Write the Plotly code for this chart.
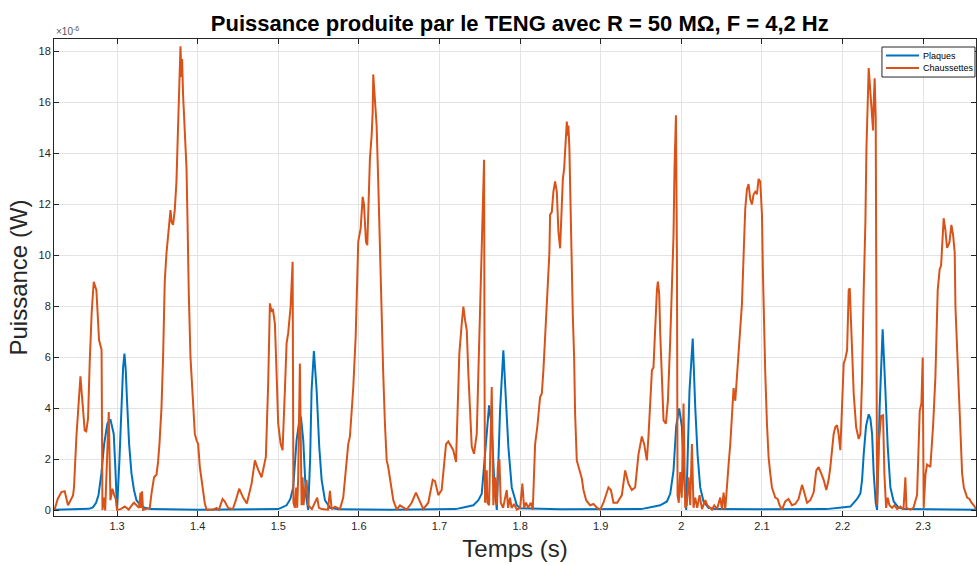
import numpy as np
import plotly.graph_objects as go

# Time (s) and power (µW) samples for the "Plaques" trace
t_plaques = [
    1.2220, 1.2500, 1.2650, 1.2700, 1.2740, 1.2770, 1.2806, 1.2840, 1.2880, 1.2918,
    1.2940, 1.2959, 1.2980, 1.3000, 1.3030, 1.3055, 1.3075, 1.3092, 1.3108, 1.3124,
    1.3150, 1.3179, 1.3210, 1.3241, 1.3290, 1.3344, 1.3420, 1.4000,
    1.4800, 1.5000, 1.5103, 1.5150, 1.5185, 1.5227, 1.5260, 1.5281, 1.5310, 1.5343,
    1.5371, 1.5395, 1.5413, 1.5442, 1.5476, 1.5508, 1.5538, 1.5579, 1.5641, 1.5750,
    1.6400, 1.7200, 1.7420, 1.7482, 1.7524, 1.7565, 1.7586, 1.7615, 1.7648, 1.7680,
    1.7711, 1.7752, 1.7792, 1.7826, 1.7854, 1.7896, 1.7959, 1.8000, 1.8500, 1.9500,
    1.9738, 1.9821, 1.9862, 1.9903, 1.9936, 1.9973, 2.0006, 2.0035, 2.0060, 2.0101,
    2.0141, 2.0172, 2.0201, 2.0234, 2.0275, 2.0337, 2.0420, 2.1000, 2.1800, 2.2097,
    2.2180, 2.2221, 2.2242, 2.2262, 2.2291, 2.2324, 2.2345, 2.2366, 2.2386, 2.2411,
    2.2428, 2.2460, 2.2497, 2.2531, 2.2560, 2.2593, 2.2634, 2.2696, 2.2779, 2.3661,
]
p_plaques = [
    0.03, 0.04, 0.06, 0.12, 0.30, 0.60, 1.45, 2.60, 3.40, 3.57,
    3.30, 3.00, 1.60, 0.02, 2.00, 4.30, 5.60, 6.15, 5.50, 4.30,
    2.60, 1.45, 0.80, 0.40, 0.20, 0.10, 0.05, 0.03,
    0.03, 0.05, 0.20, 0.45, 0.90, 2.75, 3.50, 3.67, 2.75, 0.60,
    0.02, 2.00, 4.70, 6.25, 4.70, 2.50, 1.20, 0.40, 0.10, 0.04,
    0.03, 0.05, 0.20, 0.40, 0.65, 2.20, 3.30, 4.12, 3.30, 1.05,
    0.02, 4.00, 6.28, 4.30, 2.50, 0.90, 0.20, 0.08, 0.04, 0.05,
    0.20, 0.35, 0.65, 1.57, 3.30, 4.00, 3.30, 1.20, 0.02, 4.70,
    6.74, 4.06, 2.20, 0.90, 0.35, 0.10, 0.05, 0.04, 0.05, 0.15,
    0.45, 0.67, 1.20, 2.20, 3.30, 3.77, 3.60, 3.00, 1.45, 0.30,
    0.02, 4.06, 7.10, 4.70, 2.50, 0.90, 0.35, 0.10, 0.05, 0.03,
]

# Time (s) and power (µW) samples for the "Chaussettes" trace
t_chaussettes = [
    1.2220, 1.2227, 1.2264, 1.2310, 1.2351, 1.2392, 1.2454, 1.2466, 1.2496, 1.2521,
    1.2546, 1.2562, 1.2599, 1.2618, 1.2640, 1.2661, 1.2686, 1.2711, 1.2744, 1.2777,
    1.2801, 1.2808, 1.2819, 1.2838, 1.2853, 1.2897, 1.2918, 1.2943, 1.2965, 1.2984,
    1.3000, 1.3046, 1.3096, 1.3145, 1.3195, 1.3211, 1.3273, 1.3291, 1.3298, 1.3310,
    1.3323, 1.3365, 1.3406, 1.3427, 1.3459, 1.3489, 1.3509, 1.3526, 1.3551, 1.3571,
    1.3592, 1.3613, 1.3642, 1.3663, 1.3677, 1.3695, 1.3716, 1.3737, 1.3757, 1.3770,
    1.3787, 1.3800, 1.3807, 1.3819, 1.3828, 1.3840, 1.3862, 1.3874, 1.3881, 1.3890,
    1.3911, 1.3944, 1.3965, 1.3986, 1.4006, 1.4027, 1.4055, 1.4089, 1.4110, 1.4192,
    1.4234, 1.4263, 1.4309, 1.4337, 1.4378, 1.4436, 1.4474, 1.4515, 1.4564, 1.4610,
    1.4669, 1.4710, 1.4750, 1.4793, 1.4846, 1.4875, 1.4896, 1.4917, 1.4933, 1.4958,
    1.4979, 1.4999, 1.5029, 1.5053, 1.5082, 1.5103, 1.5123, 1.5153, 1.5178, 1.5188,
    1.5206, 1.5222, 1.5235, 1.5247, 1.5268, 1.5281, 1.5289, 1.5302, 1.5314, 1.5330,
    1.5351, 1.5371, 1.5417, 1.5483, 1.5504, 1.5541, 1.5616, 1.5641, 1.5662, 1.5703,
    1.5765, 1.5806, 1.5839, 1.5868, 1.5889, 1.5930, 1.5960, 1.5980, 1.5992, 1.6022,
    1.6047, 1.6063, 1.6088, 1.6104, 1.6121, 1.6137, 1.6158, 1.6171, 1.6178, 1.6191,
    1.6199, 1.6220, 1.6240, 1.6261, 1.6282, 1.6302, 1.6323, 1.6345, 1.6364, 1.6394,
    1.6427, 1.6469, 1.6510, 1.6593, 1.6655, 1.6708, 1.6758, 1.6799, 1.6861, 1.6916,
    1.6944, 1.6985, 1.7027, 1.7081, 1.7109, 1.7171, 1.7205, 1.7246, 1.7276, 1.7296,
    1.7317, 1.7338, 1.7358, 1.7379, 1.7400, 1.7428, 1.7462, 1.7482, 1.7503, 1.7524,
    1.7536, 1.7553, 1.7559, 1.7565, 1.7586, 1.7594, 1.7615, 1.7648, 1.7668, 1.7690,
    1.7711, 1.7723, 1.7743, 1.7760, 1.7789, 1.7834, 1.7851, 1.7875, 1.7894, 1.7925,
    1.7959, 1.8000, 1.8028, 1.8049, 1.8074, 1.8099, 1.8132, 1.8157, 1.8186, 1.8214,
    1.8248, 1.8269, 1.8289, 1.8310, 1.8331, 1.8351, 1.8363, 1.8372, 1.8393, 1.8413,
    1.8434, 1.8455, 1.8475, 1.8496, 1.8508, 1.8530, 1.8546, 1.8558, 1.8579, 1.8592,
    1.8599, 1.8611, 1.8629, 1.8641, 1.8654, 1.8670, 1.8682, 1.8703, 1.8736, 1.8766,
    1.8786, 1.8819, 1.8869, 1.8910, 1.8956, 1.8993, 1.9034, 1.9096, 1.9126, 1.9158,
    1.9204, 1.9262, 1.9303, 1.9344, 1.9386, 1.9427, 1.9468, 1.9510, 1.9539, 1.9572,
    1.9592, 1.9613, 1.9635, 1.9654, 1.9676, 1.9697, 1.9709, 1.9725, 1.9738, 1.9759,
    1.9779, 1.9808, 1.9833, 1.9862, 1.9886, 1.9903, 1.9915, 1.9933, 1.9945, 1.9953,
    1.9968, 1.9986, 2.0005, 2.0027, 2.0048, 2.0067, 2.0089, 2.0110, 2.0131, 2.0151,
    2.0172, 2.0197, 2.0226, 2.0256, 2.0297, 2.0322, 2.0380, 2.0408, 2.0442, 2.0483,
    2.0504, 2.0524, 2.0545, 2.0566, 2.0586, 2.0607, 2.0628, 2.0648, 2.0669, 2.0690,
    2.0710, 2.0731, 2.0752, 2.0772, 2.0793, 2.0814, 2.0834, 2.0855, 2.0876, 2.0896,
    2.0917, 2.0938, 2.0958, 2.0979, 2.1000, 2.1012, 2.1020, 2.1041, 2.1062, 2.1082,
    2.1103, 2.1124, 2.1165, 2.1194, 2.1219, 2.1248, 2.1289, 2.1330, 2.1372, 2.1413,
    2.1454, 2.1497, 2.1525, 2.1559, 2.1600, 2.1641, 2.1674, 2.1703, 2.1736, 2.1765,
    2.1798, 2.1827, 2.1848, 2.1869, 2.1889, 2.1910, 2.1931, 2.1951, 2.1972, 2.1993,
    2.2014, 2.2035, 2.2056, 2.2076, 2.2089, 2.2110, 2.2138, 2.2168, 2.2200, 2.2221,
    2.2242, 2.2262, 2.2283, 2.2296, 2.2311, 2.2324, 2.2336, 2.2354, 2.2366, 2.2378,
    2.2386, 2.2398, 2.2411, 2.2420, 2.2428, 2.2448, 2.2478, 2.2502, 2.2519, 2.2540,
    2.2560, 2.2581, 2.2614, 2.2643, 2.2677, 2.2717, 2.2755, 2.2779, 2.2792, 2.2841,
    2.2879, 2.2924, 2.2957, 2.2978, 2.2994, 2.3006, 2.3028, 2.3048, 2.3089, 2.3123,
    2.3151, 2.3180, 2.3204, 2.3222, 2.3254, 2.3275, 2.3296, 2.3325, 2.3350, 2.3371,
    2.3391, 2.3400, 2.3421, 2.3441, 2.3462, 2.3483, 2.3504, 2.3524, 2.3545, 2.3574,
    2.3599, 2.3627, 2.3661,
]
p_chaussettes = [
    0.02, 0.05, 0.45, 0.72, 0.75, 0.20, 0.59, 0.90, 2.90, 4.30,
    5.26, 4.60, 3.14, 3.10, 3.60, 5.80, 7.80, 8.97, 8.64, 6.68,
    6.40, 6.30, 0.02, 0.50, 0.00, 3.86, 0.40, 0.85, 0.60, 0.45,
    0.02, 0.05, 0.15, 0.03, 0.25, 0.30, 0.10, 0.70, 0.10, 0.75,
    0.02, 0.05, 0.10, 0.65, 1.30, 1.40, 1.90, 2.60, 4.00, 6.00,
    9.00, 10.08, 10.93, 11.78, 11.30, 11.20, 11.78, 12.90, 15.06, 16.40,
    18.20, 17.00, 17.70, 16.30, 15.70, 14.90, 13.40, 11.40, 10.00, 8.50,
    6.00, 3.80, 3.00, 2.75, 2.60, 1.70, 1.05, 0.27, 0.03, 0.03,
    0.10, 0.02, 0.45, 0.35, 0.10, 0.05, 0.40, 0.85, 0.50, 0.27,
    1.05, 1.96, 1.60, 1.30, 2.10, 5.00, 8.12, 7.79, 7.90, 7.33,
    5.37, 3.40, 2.62, 2.36, 4.70, 6.55, 6.95, 7.99, 9.75, 0.30,
    0.10, 0.90, 0.10, 1.30, 5.76, 1.30, 0.20, 1.30, 0.20, 0.80,
    1.20, 0.20, 0.05, 0.50, 0.10, 0.05, 0.03, 0.77, 0.05, 0.15,
    0.05, 0.50, 1.50, 2.60, 2.90, 4.80, 6.80, 9.80, 10.54, 11.06,
    12.30, 12.00, 10.54, 10.40, 12.50, 13.80, 14.70, 15.60, 17.10, 16.40,
    15.90, 15.10, 12.90, 10.00, 6.95, 5.37, 3.40, 1.96, 1.70, 1.05,
    0.40, 0.03, 0.20, 0.03, 0.30, 0.70, 0.30, 0.05, 0.30, 1.20,
    1.15, 0.60, 0.80, 2.60, 2.70, 2.36, 1.90, 6.15, 7.33, 7.99,
    7.46, 7.07, 5.37, 3.67, 2.49, 2.22, 3.00, 5.37, 7.99, 10.15,
    12.37, 13.75, 5.00, 0.30, 1.57, 0.30, 0.20, 4.84, 0.20, 1.30,
    0.20, 1.70, 2.00, 0.30, 0.10, 0.80, 0.10, 0.50, 0.10, 0.25,
    0.03, 0.10, 1.05, 0.10, 0.30, 0.10, 0.30, 0.03, 2.60, 3.30,
    4.45, 4.58, 5.50, 6.68, 7.99, 9.30, 10.08, 11.60, 11.70, 12.50,
    12.90, 12.50, 10.93, 10.28, 11.30, 13.00, 13.40, 14.20, 15.25, 14.70,
    15.10, 14.20, 10.93, 10.00, 7.60, 6.00, 3.80, 1.96, 1.57, 1.24,
    0.80, 0.40, 0.20, 0.25, 0.10, 0.03, 0.30, 0.90, 0.80, 0.30,
    0.30, 0.60, 1.57, 1.05, 0.80, 0.90, 2.20, 2.90, 2.60, 1.96,
    2.90, 4.45, 5.50, 5.60, 7.33, 8.64, 8.97, 8.50, 6.94, 5.37,
    3.53, 3.40, 4.30, 6.68, 9.30, 10.80, 13.40, 15.50, 10.00, 0.60,
    0.30, 1.50, 0.50, 4.19, 0.10, 0.20, 1.30, 0.20, 2.60, 0.10,
    0.50, 0.10, 0.60, 0.05, 0.40, 0.20, 0.03, 0.20, 0.05, 0.50,
    0.03, 0.70, 0.05, 1.20, 1.80, 2.60, 3.90, 4.80, 4.30, 5.20,
    6.00, 6.94, 8.12, 10.00, 11.85, 12.60, 12.80, 12.20, 12.00, 12.40,
    12.50, 12.40, 13.00, 12.90, 11.60, 9.30, 7.99, 5.37, 3.40, 2.10,
    1.44, 0.90, 0.50, 0.45, 0.20, 0.03, 0.35, 0.45, 0.20, 0.25,
    0.45, 1.00, 0.70, 0.30, 0.40, 0.70, 1.57, 1.70, 1.44, 1.20,
    0.80, 1.20, 1.70, 2.36, 2.99, 3.27, 3.34, 2.99, 2.36, 4.06,
    5.76, 5.96, 6.29, 8.64, 8.71, 6.94, 4.58, 3.27, 2.80, 3.00,
    5.20, 8.64, 11.30, 14.20, 16.00, 17.35, 16.80, 16.00, 15.50, 14.90,
    16.00, 16.95, 15.40, 10.00, 0.20, 2.60, 3.70, 3.73, 1.40, 0.10,
    0.50, 0.20, 0.10, 0.20, 0.05, 0.15, 0.03, 1.30, 0.10, 0.03,
    0.10, 0.60, 3.90, 4.20, 6.00, 0.10, 1.40, 1.80, 1.70, 3.34,
    5.20, 8.64, 9.45, 9.60, 11.46, 11.00, 10.30, 10.50, 11.20, 10.80,
    10.10, 7.99, 6.30, 4.45, 2.90, 1.44, 0.90, 0.70, 0.50, 0.45,
    0.30, 0.20, 0.03,
]

# Axis ticks
x_ticks = [1.3, 1.4, 1.5, 1.6, 1.7, 1.8, 1.9, 2.0, 2.1, 2.2, 2.3]
x_tick_labels = ["1.3", "1.4", "1.5", "1.6", "1.7", "1.8", "1.9", "2", "2.1", "2.2", "2.3"]
y_ticks_uw = [0, 2, 4, 6, 8, 10, 12, 14, 16, 18]

# Series names and colours (shared by traces and the legend box)
series_names = ["Plaques", "Chaussettes"]
series_colors = ["#0072BD", "#D95319"]

UW = 1e-6
FONT = "Liberation Sans, Arial, Helvetica, sans-serif"
AXIS_COLOR = "#262626"
GRID_COLOR = "#e3e3e3"

fig = go.Figure()
for t, p, name, color in zip([t_plaques, t_chaussettes], [p_plaques, p_chaussettes],
                             series_names, series_colors):
    fig.add_trace(go.Scatter(
        x=t, y=np.array(p) * UW, mode="lines", name=name,
        line=dict(color=color, width=2), showlegend=False,
    ))

axis_common = dict(
    showline=True, linecolor=AXIS_COLOR, linewidth=1, mirror="ticks",
    ticks="inside", ticklen=5, tickcolor=AXIS_COLOR, tickwidth=1,
    showgrid=True, gridcolor=GRID_COLOR, gridwidth=1, zeroline=False,
    tickfont=dict(family=FONT, size=11, color=AXIS_COLOR),
)

fig.update_layout(
    width=977, height=565,
    margin=dict(l=54, r=1, t=39, b=49),
    paper_bgcolor="white", plot_bgcolor="white",
    font=dict(family=FONT, color=AXIS_COLOR),
    title=dict(
        text="<b>Puissance produite par le TENG avec R = 50 MΩ, F = 4,2 Hz</b>",
        x=0.532, xanchor="center", y=0.958, yanchor="middle",
        font=dict(family=FONT, size=22, color="#000000"),
    ),
    xaxis=dict(
        range=[1.2218, 2.3655], tickvals=x_ticks, ticktext=x_tick_labels,
        title=dict(text="Temps (s)", font=dict(family=FONT, size=24, color=AXIS_COLOR), standoff=8),
        **axis_common,
    ),
    yaxis=dict(
        range=[-0.22 * UW, 18.49 * UW],
        tickvals=[v * UW for v in y_ticks_uw], ticktext=[str(v) for v in y_ticks_uw],
        title=dict(text="Puissance (W)", font=dict(family=FONT, size=24, color=AXIS_COLOR), standoff=4),
        **axis_common,
    ),
    showlegend=False,
)

# Compact legend box in the upper-right corner of the axes
box_x0, box_x1, box_y0, box_y1 = 0.898, 0.9989, 0.9203, 0.9832
fig.add_shape(type="rect", xref="paper", yref="paper",
              x0=box_x0, x1=box_x1, y0=box_y0, y1=box_y1,
              fillcolor="white", line=dict(color=AXIS_COLOR, width=1), layer="above")
for i, (name, color) in enumerate(zip(series_names, series_colors)):
    yy = 0.9654 - i * 0.0262
    fig.add_shape(type="line", xref="paper", yref="paper",
                  x0=0.9024, x1=0.9382, y0=yy, y1=yy,
                  line=dict(color=color, width=2), layer="above")
    fig.add_annotation(text=name, xref="paper", yref="paper", x=0.9403, y=yy,
                       xanchor="left", yanchor="middle", showarrow=False,
                       font=dict(family=FONT, size=9, color="#000000"))

# Exponent marker above the y axis
fig.add_annotation(
    text="×10<sup>-6</sup>", xref="paper", yref="paper", x=0.0, y=1.0,
    xanchor="left", yanchor="bottom", showarrow=False,
    font=dict(family=FONT, size=10, color="#555555"),
)

fig.write_html("out.html")
